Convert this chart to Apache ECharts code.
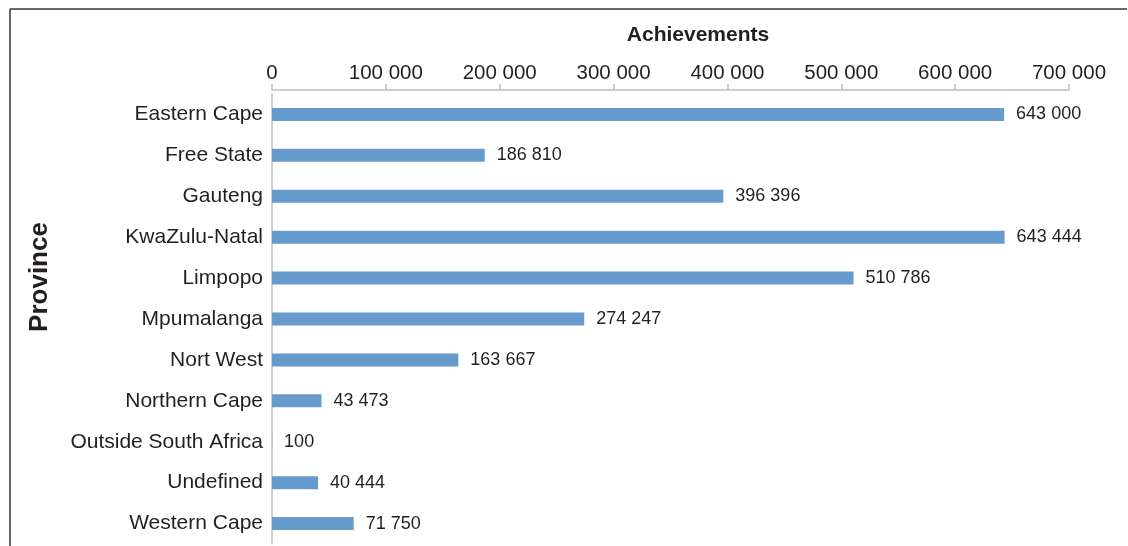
<!DOCTYPE html>
<html>
<head>
<meta charset="utf-8">
<script src="https://cdn.jsdelivr.net/npm/echarts@6/dist/echarts.min.js"></script>
<style>
html,body{margin:0;padding:0;background:#fff;}
#chart{width:1128px;height:546px;}
</style>
</head>
<body>
<div id="chart"></div>
<script>
const categories = ["Eastern Cape","Free State","Gauteng","KwaZulu-Natal","Limpopo","Mpumalanga","Nort West","Northern Cape","Outside South Africa","Undefined","Western Cape"];
const achievements = [643000,186810,396396,643444,510786,274247,163667,43473,100,40444,71750];
const xTicks = [0,100000,200000,300000,400000,500000,600000,700000];
const axisTitle = "Achievements";
const categoryTitle = "Province";

function fmt(v){ return String(v).replace(/\B(?=(\d{3})+(?!\d))/g, " "); }

const chart = echarts.init(document.getElementById('chart'), null, {renderer:'canvas'});
const FONT = '"Liberation Sans", Arial, Helvetica, sans-serif';
chart.setOption({
  animation:false,
  backgroundColor:'#ffffff',
  textStyle:{fontFamily:FONT},
  grid:{left:272, right:59, top:94, bottom:2, containLabel:false},
  xAxis:{
    type:'value', position:'top', offset:4,
    min:xTicks[0], max:xTicks[xTicks.length-1], interval:xTicks[1]-xTicks[0],
    axisLine:{show:true, lineStyle:{color:'#bfbfbf', width:1.5}},
    axisTick:{show:true, length:6, lineStyle:{color:'#bfbfbf', width:1.5}},
    splitLine:{show:false},
    axisLabel:{color:'#231f20', fontSize:20.5, fontFamily:FONT, margin:6, formatter:fmt}
  },
  yAxis:{
    type:'category', inverse:true, data:categories,
    axisLine:{show:true, lineStyle:{color:'#bfbfbf', width:1.5}},
    axisTick:{show:false},
    axisLabel:{color:'#231f20', fontSize:21, fontFamily:FONT, margin:9, padding:[0,0,8,0]}
  },
  graphic:[
    {type:'line', shape:{x1:10, y1:9, x2:1127, y2:9}, style:{stroke:'#333', lineWidth:1.5}},
    {type:'line', shape:{x1:10, y1:9, x2:10, y2:546}, style:{stroke:'#333', lineWidth:1.5}},
    {type:'text', x:698, y:35, style:{text:axisTitle, font:'bold 21px '+FONT, fill:'#231f20', textAlign:'center', textVerticalAlign:'middle'}},
    {type:'text', x:40, y:277, rotation:Math.PI/2, style:{text:categoryTitle, font:'bold 26px '+FONT, fill:'#231f20', textAlign:'center', textVerticalAlign:'middle'}}
  ],
  series:[{
    type:'bar', data:achievements, barWidth:13,
    itemStyle:{color:'#689bcd'},
    label:{show:true, position:'right', distance:12, color:'#231f20', fontSize:18, fontFamily:FONT, formatter:p=>fmt(p.value)}
  }]
});
</script>
</body>
</html>
